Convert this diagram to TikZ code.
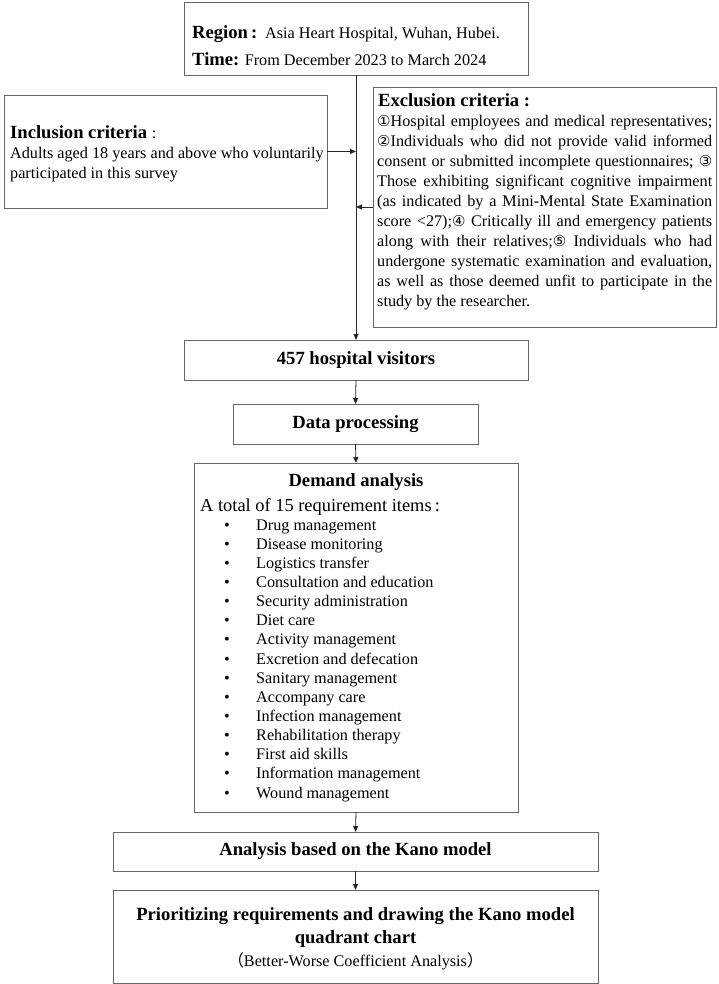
\documentclass[tikz,border=0pt]{standalone}
\usepackage{fontspec}
\setmainfont{Liberation Serif}
\newfontfamily\circfont{DejaVu Sans}
\newfontfamily\cjkfont{Noto Sans CJK SC}
\usetikzlibrary{arrows.meta}
\newcommand{\circd}[1]{{\circfont\fontsize{15}{15}\selectfont #1}}
\newcommand{\jline}[1]{\makebox[335pt][s]{#1}}
\begin{document}
\begin{tikzpicture}[x=1pt,y=-1pt,
  box/.style={draw=black!60, line width=0.9pt, inner sep=0pt, outer sep=0pt, anchor=north west},
  bbox/.style={box, font=\bfseries\fontsize{18.6}{22}\selectfont},
  txt/.style={inner sep=0pt, anchor=base west, font=\fontsize{16.2}{19}\selectfont},
  btxt/.style={inner sep=0pt, anchor=base west, font=\bfseries\fontsize{18.6}{22}\selectfont},
  ctxt/.style={inner sep=0pt, anchor=base, font=\bfseries\fontsize{18.6}{22}\selectfont},
  arr/.style={draw=black!85, line width=0.8pt, -{Triangle[length=6pt,width=5pt]}}]
\useasboundingbox (0,0) rectangle (719,984);
\fill[white] (0,0) rectangle (719,984);

% boxes
\node[box, minimum width=344pt, minimum height=73pt] (top) at (184,2) {};
\node[box, minimum width=323pt, minimum height=113pt] (incl) at (4,95) {};
\node[box, minimum width=343pt, minimum height=240pt] (excl) at (373,87) {};
\node[bbox, minimum width=344pt, minimum height=40pt] (visitors) at (184,340) {457 hospital visitors};
\node[bbox, minimum width=245pt, minimum height=40pt] (data) at (233,404) {Data processing};
\node[box, minimum width=324pt, minimum height=349pt] (demand) at (194,463) {};
\node[bbox, minimum width=485pt, minimum height=39pt] (kano) at (113,832) {Analysis based on the Kano model};
\node[box, minimum width=485pt, minimum height=93pt] (final) at (113,890) {};

% top box text
\node[btxt] (region) at (192,39) {Region\,:};
\node[txt] (regiontxt) at (265,39) {Asia Heart Hospital, Wuhan, Hubei.};
\node[txt] (time) at (192,66) {{\bfseries\fontsize{18.6}{22}\selectfont Time:} From December 2023 to March 2024};

% inclusion text
\node[btxt] (inclh) at (10,139) {Inclusion criteria {\mdseries\fontsize{16.2}{19}\selectfont :}};
\node[txt] (incl1) at (10,159) {Adults aged 18 years and above who voluntarily};
\node[txt] (incl2) at (10,179) {participated in this survey};

% exclusion text
\node[btxt] (exclh) at (378,107) {Exclusion criteria :};
\foreach \t [count=\i from 0] in {
  {\jline{\circd{①}Hospital employees and medical representatives;}},
  {\jline{\circd{②}Individuals who did not provide valid informed}},
  {\jline{consent or submitted incomplete questionnaires; \circd{③}}},
  {\jline{Those exhibiting significant cognitive impairment}},
  {\jline{(as indicated by a Mini-Mental State Examination}},
  {\jline{score <27);\circd{④} Critically ill and emergency patients}},
  {\jline{along with their relatives;\circd{⑤} Individuals who had}},
  {\jline{undergone systematic examination and evaluation,}},
  {\jline{as well as those deemed unfit to participate in the}},
  {study by the researcher.}}
  { \node[txt] (ex\i) at (377,{127+19.9*\i}) {\t}; }

% demand text
\node[ctxt] (demh) at (356,486) {Demand analysis};
\node[txt, font=\fontsize{18.4}{22}\selectfont] (demtot) at (200,511) {A total of 15 requirement items\,:};
\foreach \t [count=\i from 0] in {Drug management, Disease monitoring, Logistics transfer,
  Consultation and education, Security administration, Diet care, Activity management,
  Excretion and defecation, Sanitary management, Accompany care, Infection management,
  Rehabilitation therapy, First aid skills, Information management, Wound management}
  { \node[txt, anchor=base] (bul\i) at (227,{530+19.15*\i}) {\textbullet};
    \node[txt] (item\i) at (256,{530+19.15*\i}) {\t}; }

% final text
\node[ctxt] (fin1) at (355.5,920) {Prioritizing requirements and drawing the Kano model};
\node[ctxt] (fin2) at (355.5,943) {quadrant chart};
\node[ctxt, font=\fontsize{16.2}{19}\selectfont] (fin3) at (355.5,966) {{\cjkfont （}Better-Worse Coefficient Analysis{\cjkfont ）}};

% connectors
\draw[arr] (top.south) -- (visitors.north);
\coordinate (jin) at (top.south |- incl.east);
\draw[arr] (incl.east) -- (jin);
\coordinate (jex) at (top.south |- excl.west);
\draw[arr] (excl.west) -- (jex);
\draw[arr] (visitors.south) -- (data.north);
\draw[arr] (data.south) -- (demand.north);
\draw[arr] (demand.south) -- (kano.north);
\draw[arr] (kano.south) -- (final.north);
\end{tikzpicture}
\end{document}
